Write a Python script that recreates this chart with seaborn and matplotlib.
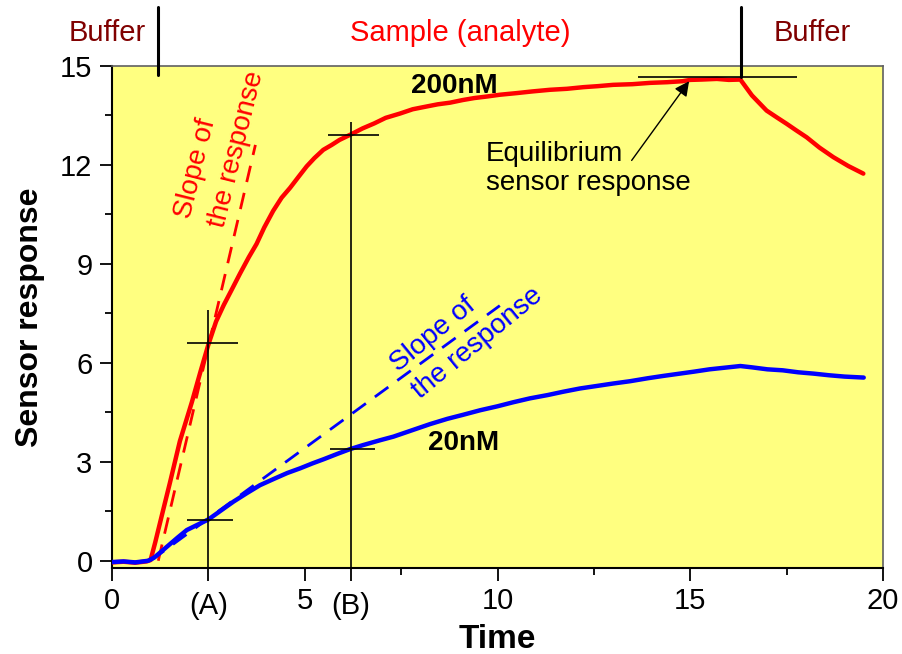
import matplotlib
matplotlib.use("Agg")
import matplotlib.pyplot as plt
import pandas as pd
import seaborn as sns

# Sensorgram for the 200 nM injection
time_200 = [0.0, 0.3, 0.6, 0.9, 1.0, 1.12, 1.33, 1.5, 1.76, 2.07, 2.3, 2.5, 2.7,
            2.9, 3.1, 3.32, 3.55, 3.75, 3.95, 4.18, 4.4, 4.62, 4.85, 5.05, 5.25,
            5.48, 5.7, 5.9, 6.2, 6.5, 6.8, 7.1, 7.47, 7.8, 8.1, 8.45, 8.77, 9.1,
            9.4, 9.75, 10.06, 10.5, 10.9, 11.36, 11.8, 12.23, 12.6, 13.0, 13.5,
            13.96, 14.4, 14.8, 15.0, 15.3, 15.69, 16.0, 16.3, 16.6, 16.98, 17.25,
            17.5, 17.75, 18.02, 18.35, 18.71, 19.1, 19.49]
resp_200 = [-0.05, -0.03, -0.06, -0.02, 0.02, 0.55, 1.55, 2.35, 3.62, 4.8, 5.75, 6.55,
            7.25, 7.75, 8.2, 8.7, 9.2, 9.6, 10.1, 10.6, 11.0, 11.3, 11.65, 11.95,
            12.2, 12.45, 12.6, 12.75, 12.92, 13.1, 13.25, 13.42, 13.55, 13.68,
            13.75, 13.83, 13.88, 13.96, 14.02, 14.07, 14.12, 14.17, 14.22, 14.27,
            14.3, 14.35, 14.38, 14.42, 14.44, 14.48, 14.5, 14.53, 14.57, 14.58,
            14.6, 14.57, 14.58, 14.1, 13.64, 13.43, 13.24, 13.04, 12.83, 12.52,
            12.23, 11.96, 11.73]

# Sensorgram for the 20 nM injection
time_20 = [0.0, 0.3, 0.6, 0.94, 1.1, 1.42, 1.7, 1.94, 2.2, 2.5, 2.8, 3.15, 3.5,
           3.84, 4.2, 4.55, 4.88, 5.2, 5.5, 5.85, 6.17, 6.5, 6.95, 7.3, 7.7, 8.25,
           8.7, 9.1, 9.55, 10.0, 10.4, 10.84, 11.3, 11.7, 12.14, 12.6, 13.0, 13.44,
           13.9, 14.3, 14.73, 15.1, 15.5, 15.9, 16.3, 16.6, 17.0, 17.4, 17.8, 18.2,
           18.6, 19.0, 19.5]
resp_20 = [-0.04, -0.02, -0.05, 0.0, 0.1, 0.42, 0.7, 0.93, 1.08, 1.25, 1.5, 1.79,
           2.05, 2.29, 2.48, 2.66, 2.8, 2.95, 3.08, 3.24, 3.38, 3.5, 3.65, 3.76,
           3.92, 4.14, 4.3, 4.42, 4.56, 4.68, 4.8, 4.92, 5.02, 5.12, 5.22, 5.3,
           5.37, 5.44, 5.53, 5.6, 5.67, 5.73, 5.8, 5.85, 5.9, 5.86, 5.8, 5.77,
           5.71, 5.67, 5.62, 5.58, 5.55]

# Initial-slope lines
slope_200_t = [1.2, 3.72]
slope_200_y = [0.0, 12.6]
slope_20_t = [1.0, 10.06]
slope_20_y = [0.0, 7.73]

# Read-out times and responses
t_a, t_b = 2.5, 6.2
resp_a = [6.59, 1.23]
resp_b = [12.9, 3.38]
equilibrium = 14.67
t_inject, t_wash = 1.19, 16.32

x_major = [0, 2.5, 5, 6.2, 10, 15, 20]
x_major_labels = ["0", "", "5", "", "10", "15", "20"]
x_minor = [7.5, 12.5, 17.5]
y_major = [0, 3, 6, 9, 12, 15]
y_minor = [1.5, 4.5, 7.5, 10.5, 13.5]

sns.set_theme(style="ticks")
plt.rcParams["font.family"] = ["Liberation Sans", "DejaVu Sans"]
plt.rcParams.update({"text.color": "black", "axes.labelcolor": "black",
                     "xtick.color": "black", "ytick.color": "black"})

fig = plt.figure(figsize=(9.02, 6.54), dpi=100)
ax = fig.add_axes([112 / 902, 86 / 654, 771 / 902, 502.3 / 654])
ax.set_facecolor("#FFFF80")

df = pd.concat([
    pd.DataFrame({"Time": time_200, "Response": resp_200, "Conc": "200nM"}),
    pd.DataFrame({"Time": time_20, "Response": resp_20, "Conc": "20nM"}),
])
sns.lineplot(data=df, x="Time", y="Response", hue="Conc",
             palette={"200nM": "#FF0000", "20nM": "#0000FF"},
             estimator=None, linewidth=3.2, legend=False, ax=ax, zorder=3)

ax.plot(slope_200_t, slope_200_y, color="#FF0000", lw=2, dashes=(6, 4), zorder=2)
ax.plot(slope_20_t, slope_20_y, color="#0000FF", lw=2, dashes=(6, 4), zorder=2)

ybot = -0.22
# read-out cross hairs
ax.vlines(t_a, ybot, 7.6, color="black", lw=1.2, zorder=4)
ax.hlines(resp_a[0], 1.95, 3.26, color="black", lw=1.2, zorder=4)
ax.hlines(resp_a[1], 1.95, 3.13, color="black", lw=1.2, zorder=4)
ax.vlines(t_b, ybot, 13.3, color="black", lw=1.2, zorder=4)
ax.hlines(resp_b[0], 5.6, 6.92, color="black", lw=1.2, zorder=4)
ax.hlines(resp_b[1], 5.65, 6.82, color="black", lw=1.2, zorder=4)
ax.hlines(equilibrium, 13.65, 17.77, color="black", lw=1.2, zorder=4)

# phase markers above the plot
xt = ax.get_xaxis_transform()
ax.plot([t_inject, t_inject], [0.9815, 1.117], transform=xt, color="black",
        lw=2.2, clip_on=False, zorder=5)
ax.plot([t_wash, t_wash], [0.978, 1.117], transform=xt, color="black",
        lw=2.2, clip_on=False, zorder=5)
ax.text(-0.12, 1.066, "Buffer", transform=xt, ha="center", va="center",
        fontsize=21, color="#800000")
ax.text(9.03, 1.066, "Sample (analyte)", transform=xt, ha="center", va="center",
        fontsize=21, color="#FF0000")
ax.text(18.17, 1.066, "Buffer", transform=xt, ha="center", va="center",
        fontsize=21, color="#800000")

# annotations
ax.text(8.87, 14.4, "200nM", ha="center", va="center", fontsize=20,
        fontweight="bold", color="black", zorder=6)
ax.text(9.11, 3.58, "20nM", ha="center", va="center", fontsize=20,
        fontweight="bold", color="black", zorder=6)
ax.text(2.8, 12.6, "Slope of\nthe response", rotation=76, rotation_mode="anchor",
        ha="center", va="center", multialignment="left", fontsize=20,
        linespacing=1.45, color="#FF0000", zorder=6)
ax.text(9.2, 7.0, "Slope of\nthe response", rotation=39.4, rotation_mode="anchor",
        ha="center", va="center", multialignment="left", fontsize=20,
        linespacing=1.45, color="#0000FF", zorder=6)
ax.text(9.7, 11.88, "Equilibrium\nsensor response", ha="left", va="center",
        fontsize=20, color="black", linespacing=1.15, zorder=6)
ax.annotate("", xy=(14.97, 14.53), xytext=(13.48, 12.13),
            arrowprops=dict(arrowstyle="-|>", color="black", lw=1,
                            mutation_scale=22, shrinkA=0, shrinkB=0), zorder=6)

# axes
ax.set_xlim(0, 20)
ax.set_ylim(ybot, 15)
ax.set_xticks(x_major, labels=x_major_labels)
ax.set_xticks(x_minor, minor=True)
ax.set_yticks(y_major)
ax.set_yticks(y_minor, minor=True)
ax.tick_params(which="major", direction="out", length=9, width=1.3,
               labelsize=21, pad=5, color="black", labelcolor="black")
ax.tick_params(which="minor", direction="out", length=5, width=1.3, color="black")
for lbl, tx in (("(A)", t_a), ("(B)", t_b)):
    ax.text(tx, -0.076, lbl, transform=xt, ha="center", va="center", fontsize=21,
            color="black")

ax.set_xlabel("Time", fontsize=24, fontweight="bold", color="black")
ax.set_ylabel("Sensor response", fontsize=23, fontweight="bold", color="black")
ax.xaxis.label.set_va("center")
ax.yaxis.label.set_va("center")
ax.xaxis.set_label_coords(0.5, -0.142)
ax.yaxis.set_label_coords(-0.106, 0.5)

for side in ("left", "bottom"):
    ax.spines[side].set_color("black")
    ax.spines[side].set_linewidth(1.5)
for side in ("top", "right"):
    ax.spines[side].set_color("#606060")
    ax.spines[side].set_linewidth(1.2)

fig.savefig("out.png", dpi=100, facecolor="white")
